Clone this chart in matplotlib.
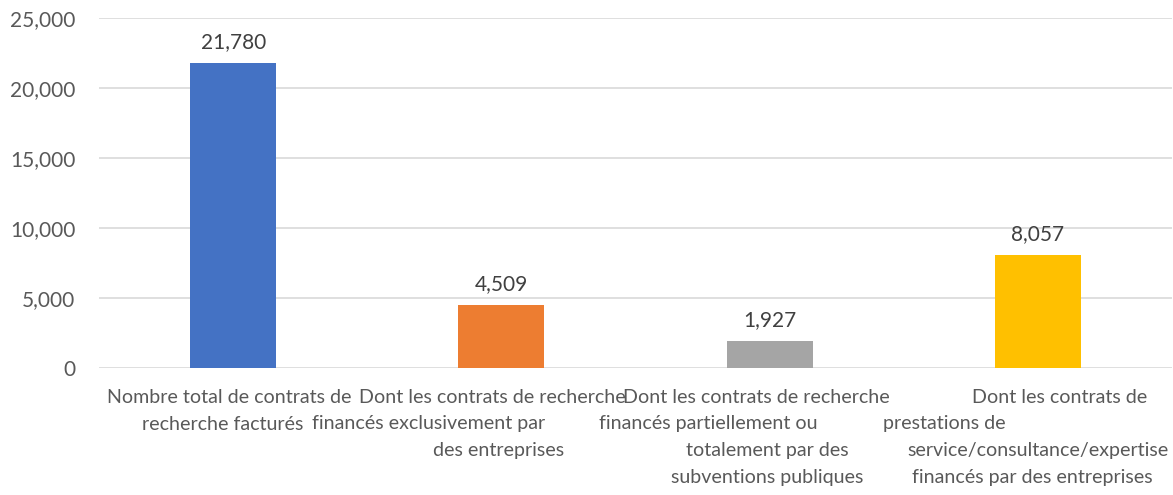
import matplotlib
matplotlib.use("Agg")
import matplotlib.pyplot as plt
from matplotlib.ticker import FuncFormatter
from matplotlib.transforms import ScaledTranslation

categories = [
    "Nombre total de contrats de recherche facturés",
    "Dont les contrats de recherche financés exclusivement par des entreprises",
    "Dont les contrats de recherche financés partiellement ou totalement par des subventions publiques",
    "Dont les contrats de prestations de service/consultance/expertise financés par des entreprises",
]
label_lines = [
    ["Nombre total de contrats de", "recherche facturés"],
    ["Dont les contrats de recherche", "financés exclusivement par", "des entreprises"],
    ["Dont les contrats de recherche", "financés partiellement ou", "totalement par des", "subventions publiques"],
    ["Dont les contrats de", "prestations de", "service/consultance/expertise", "financés par des entreprises"],
]
values = [21780, 4509, 1927, 8057]
colors = ["#4472C4", "#ED7D31", "#A5A5A5", "#FFC000"]
yticks = [0, 5000, 10000, 15000, 20000, 25000]

# per-line horizontal offsets (data units) mimicking the wrapped label layout
line_offsets = [
    [-0.015, -0.04],
    [-0.035, -0.27, -0.01],
    [-0.05, -0.23, -0.01, -0.01],
    [0.08, -0.35, 0.0, -0.02],
]

FONT = "Lato"
TXT = "#595959"

fig = plt.figure(figsize=(11.73, 4.95), dpi=100)
ax = fig.add_axes([99 / 1173, (495 - 368) / 495, (1172 - 99) / 1173, 350 / 495])

x = list(range(len(values)))
bars = ax.bar(x, values, width=0.32, color=colors, zorder=3)
ax.set_xlim(-0.5, len(values) - 0.5)
ax.set_ylim(0, 25000)
ax.set_yticks(yticks)
ax.yaxis.set_major_formatter(FuncFormatter(lambda v, p: f"{int(v):,}"))
ax.tick_params(axis="y", length=0, pad=17, labelsize=15, labelcolor=TXT)
for lab in ax.get_yticklabels():
    lab.set_fontfamily(FONT)
ax.set_xticks([])
ax.grid(axis="y", color="#D9D9D9", linewidth=1.2, zorder=0)
for s in ax.spines.values():
    s.set_visible(False)

for b, v in zip(bars, values):
    ax.annotate(f"{v:,}", (b.get_x() + b.get_width() / 2, v), xytext=(0, 8),
                textcoords="offset points", ha="center", va="bottom",
                fontsize=15, color="#404040", family=FONT)

trans = ax.get_xaxis_transform()
for i, (lines, offs) in enumerate(zip(label_lines, line_offsets)):
    for j, (ln, off) in enumerate(zip(lines, offs)):
        tr = trans + ScaledTranslation(0, -(0.21 + 0.265 * j), fig.dpi_scale_trans)
        ax.text(i + off, 0, ln, transform=tr, ha="center", va="top",
                fontsize=14.1, color=TXT, family=FONT)

fig.savefig("out.png", dpi=100, facecolor="white")
